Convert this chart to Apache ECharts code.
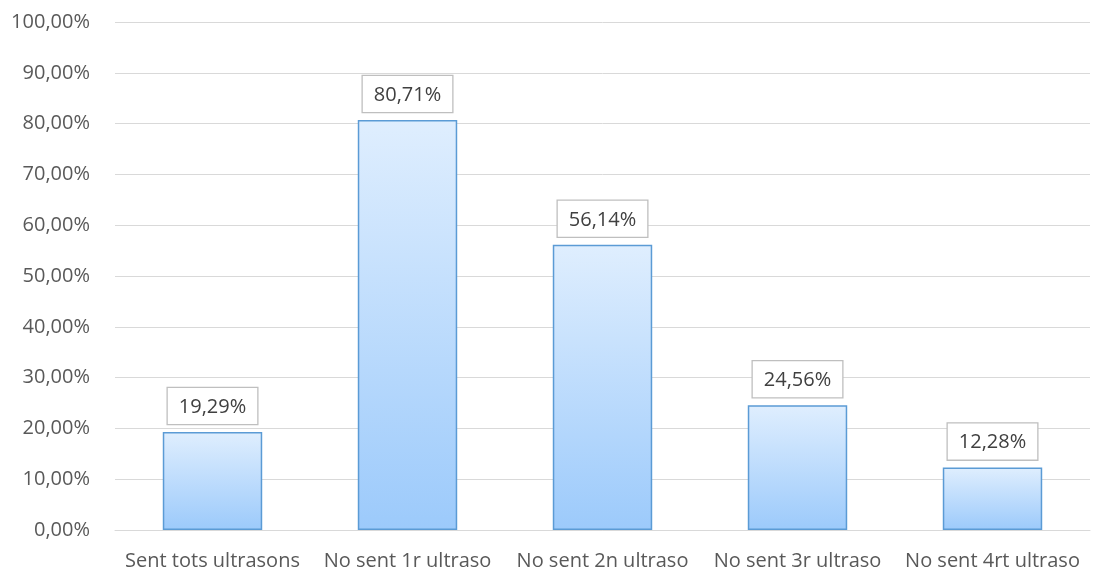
<!DOCTYPE html>
<html><head><meta charset="utf-8">
<script src="https://cdn.jsdelivr.net/npm/echarts@6/dist/echarts.min.js"></script>
<style>html,body{margin:0;padding:0;background:#fff}#c{width:1095px;height:573px}</style>
</head><body><div id="c"></div>
<script>
var categories = ["Sent tots ultrasons","No sent 1r ultraso","No sent 2n ultraso","No sent 3r ultraso","No sent 4rt ultraso"];
var values = [19.29, 80.71, 56.14, 24.56, 12.28];
function fmt(v){ return v.toFixed(2).replace('.', ',') + '%'; }
var chart = echarts.init(document.getElementById('c'));
chart.setOption({
  animation:false,
  textStyle:{fontFamily:'Open Sans'},
  grid:{left:115,right:5,top:22,bottom:43,containLabel:false},
  xAxis:{type:'category',data:categories,
    axisLine:{show:true,lineStyle:{color:'#d9d9d9',width:1}},
    axisTick:{show:false},
    axisLabel:{color:'#595959',fontSize:20,fontFamily:'Open Sans',margin:21,interval:0}},
  yAxis:{type:'value',min:0,max:100,interval:10,
    axisLine:{show:false},axisTick:{show:false},
    splitLine:{lineStyle:{color:'#d9d9d9',width:1}},
    axisLabel:{color:'#595959',fontSize:20,fontFamily:'Open Sans',margin:25,formatter:function(v){return fmt(v);}}},
  series:[{type:'bar',data:values,barWidth:'51%',
    itemStyle:{borderColor:'#5b9bd5',borderWidth:1.5,
      color:new echarts.graphic.LinearGradient(0,0,0,1,[{offset:0,color:'#dfeefe'},{offset:1,color:'#9ccafb'}])},
    label:{show:true,position:'top',distance:8,color:'#404040',fontSize:20,fontFamily:'Open Sans',
      backgroundColor:'#fff',borderColor:'#bfbfbf',borderWidth:1.3,padding:[9,11,7,11],
      formatter:function(p){return fmt(p.value);}}}]
});
</script></body></html>
